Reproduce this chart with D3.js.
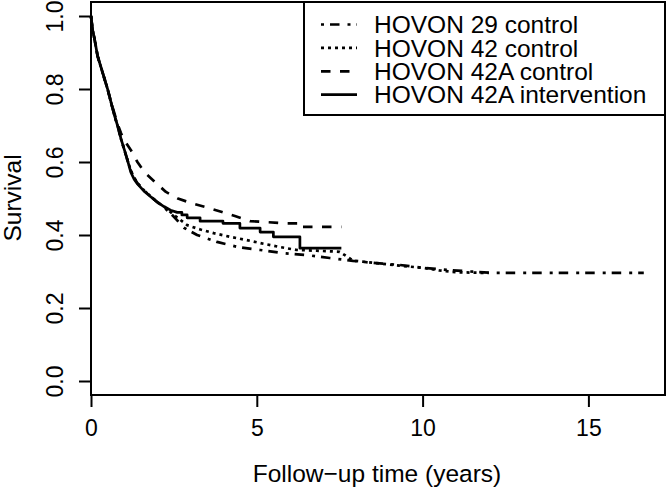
<!DOCTYPE html>
<html>
<head>
<meta charset="utf-8">
<script src="https://cdn.jsdelivr.net/npm/d3@7"></script>
<style>
  body { margin: 0; background: #ffffff; }
  text { font-family: "Liberation Sans", Arial, sans-serif; fill: #000; }
</style>
</head>
<body>
<div id="canvas"></div>
<script>
// Survival curves (time in years, survival fraction)
let h29_time = [0, 0.05, 0.1, 0.2, 0.3, 0.4, 0.5, 0.6, 0.7, 0.8, 0.9, 1.0, 1.1, 1.2, 1.3, 1.4, 1.6, 1.8, 2.0, 2.2, 2.5, 2.8, 3.2, 3.8, 4.43, 5.1, 5.8, 6.5, 7.2, 7.9, 8.6, 9.3, 10.0, 10.8, 11.6, 12.2, 16.67]
let h29_surv = [1, 0.96, 0.94, 0.89, 0.86, 0.83, 0.80, 0.765, 0.73, 0.70, 0.665, 0.635, 0.605, 0.577, 0.557, 0.542, 0.522, 0.506, 0.49, 0.476, 0.45, 0.42, 0.40, 0.381, 0.367, 0.359, 0.35, 0.345, 0.337, 0.329, 0.323, 0.318, 0.31, 0.304, 0.299, 0.296, 0.296]

let h42_time = [0, 0.05, 0.1, 0.2, 0.3, 0.4, 0.5, 0.6, 0.7, 0.8, 0.9, 1.0, 1.1, 1.2, 1.3, 1.4, 1.6, 1.8, 2.0, 2.2, 2.5, 2.9, 3.3, 3.7, 4.2, 4.7, 5.2, 5.7, 6.2, 6.8, 7.5, 7.9, 8.6, 9.3, 10.0, 10.5, 11.0, 12.0]
let h42_surv = [1, 0.96, 0.94, 0.89, 0.86, 0.83, 0.80, 0.765, 0.73, 0.70, 0.665, 0.635, 0.605, 0.577, 0.557, 0.542, 0.522, 0.506, 0.49, 0.478, 0.455, 0.427, 0.415, 0.405, 0.395, 0.386, 0.376, 0.367, 0.359, 0.357, 0.354, 0.33, 0.323, 0.316, 0.31, 0.303, 0.298, 0.296]

let h42a_ctl_time = [0, 0.05, 0.1, 0.2, 0.3, 0.4, 0.5, 0.6, 0.7, 0.8, 0.9, 1.0, 1.2, 1.4, 1.63, 1.93, 2.26, 2.62, 3.0, 3.44, 3.95, 4.34, 4.8, 5.34, 5.9, 6.3, 6.3, 7.55]
let h42a_ctl_surv = [1, 0.96, 0.94, 0.89, 0.86, 0.83, 0.80, 0.765, 0.735, 0.705, 0.68, 0.66, 0.633, 0.60, 0.57, 0.545, 0.518, 0.50, 0.488, 0.477, 0.463, 0.452, 0.438, 0.435, 0.432, 0.432, 0.422, 0.422]

let h42a_int_time = [0, 0.05, 0.1, 0.2, 0.3, 0.4, 0.5, 0.6, 0.7, 0.8, 0.9, 1.0, 1.1, 1.2, 1.3, 1.4, 1.6, 1.8, 2.0, 2.2, 2.4, 2.6, 2.74, 2.74, 2.9, 2.9, 3.29, 3.29, 3.98, 3.98, 4.49, 4.49, 5.1, 5.1, 5.5, 5.5, 6.3, 6.3, 7.55]
let h42a_int_surv = [1, 0.96, 0.94, 0.89, 0.86, 0.83, 0.80, 0.765, 0.73, 0.70, 0.665, 0.635, 0.605, 0.572, 0.553, 0.54, 0.52, 0.505, 0.49, 0.478, 0.468, 0.462, 0.462, 0.455, 0.455, 0.447, 0.447, 0.438, 0.438, 0.432, 0.432, 0.419, 0.419, 0.408, 0.408, 0.395, 0.395, 0.364, 0.364]

let series_names = ["HOVON 29 control", "HOVON 42 control", "HOVON 42A control", "HOVON 42A intervention"]
let x_ticks = [0, 5, 10, 15]
let y_ticks = [0, 0.2, 0.4, 0.6, 0.8, 1.0]

// line style per series (dot-dash, dotted, dashed, solid)
let dashes = ["3,6,9.5,8", "3,4", "9.5,9.5", null]
let series_data = [
  [h29_time, h29_surv],
  [h42_time, h42_surv],
  [h42a_ctl_time, h42a_ctl_surv],
  [h42a_int_time, h42a_int_surv]
]

let svg = d3.select('#canvas')
  .append('svg')
  .attr('width', 667)
  .attr('height', 487)
  .style('background', '#ffffff')

// scales - plot box spans x 91..665, y 2..395
let x = d3.scaleLinear().domain([0, 17.31]).range([91, 665])
let y = d3.scaleLinear().domain([0, 1]).range([381, 16])

// x axis
let x_axis = svg.append('g')
  .attr('transform', 'translate(0,395)')
  .call(d3.axisBottom(x).tickValues(x_ticks).tickSize(12).tickPadding(12.7).tickFormat(d3.format('d')))
x_axis.select('.domain').remove()
x_axis.selectAll('line').attr('stroke', '#000').attr('stroke-width', 2)
x_axis.selectAll('text').style('font-size', '23px')

// y axis - labels rotated like R
let y_axis = svg.append('g')
  .attr('transform', 'translate(91,0)')
  .call(d3.axisLeft(y).tickValues(y_ticks).tickSize(12).tickFormat(d3.format('.1f')))
y_axis.select('.domain').remove()
y_axis.selectAll('line').attr('stroke', '#000').attr('stroke-width', 2)
y_axis.selectAll('text')
  .attr('x', null)
  .attr('dy', null)
  .attr('text-anchor', 'middle')
  .attr('transform', 'translate(-28,0) rotate(-90)')
  .style('font-size', '23px')

// axis titles
svg.append('text')
  .attr('x', 377)
  .attr('y', 482)
  .attr('text-anchor', 'middle')
  .style('font-size', '24.5px')
  .text('Follow\u2212up time (years)')

svg.append('text')
  .attr('transform', 'translate(20.5,198) rotate(-90)')
  .attr('text-anchor', 'middle')
  .style('font-size', '24.5px')
  .text('Survival')

// the curves
let line = d3.line()
  .x(d => x(d[0]))
  .y(d => y(d[1]))

series_data.forEach(function(s, i) {
  let pts = d3.zip(s[0], s[1])
  svg.append('path')
    .datum(pts)
    .attr('d', line)
    .attr('fill', 'none')
    .attr('stroke', '#000')
    .attr('stroke-width', 2.7)
    .attr('stroke-dasharray', dashes[i])
    .attr('stroke-linejoin', 'round')
})

// plot box
svg.append('rect')
  .attr('x', 91)
  .attr('y', 2)
  .attr('width', 574)
  .attr('height', 393)
  .attr('fill', 'none')
  .attr('stroke', '#000')
  .attr('stroke-width', 2)

// legend
let legend = svg.append('g')
legend.append('rect')
  .attr('x', 304)
  .attr('y', 2)
  .attr('width', 361)
  .attr('height', 113)
  .attr('fill', '#fff')
  .attr('stroke', '#000')
  .attr('stroke-width', 2)

series_names.forEach(function(name, i) {
  let cy = 24.5 + i * 23.4
  legend.append('line')
    .attr('x1', 321)
    .attr('x2', 357)
    .attr('y1', cy)
    .attr('y2', cy)
    .attr('stroke', '#000')
    .attr('stroke-width', 2.7)
    .attr('stroke-dasharray', dashes[i])
  legend.append('text')
    .attr('x', 374)
    .attr('y', cy + 8.7)
    .style('font-size', '24.5px')
    .text(name)
})
</script>
</body>
</html>
